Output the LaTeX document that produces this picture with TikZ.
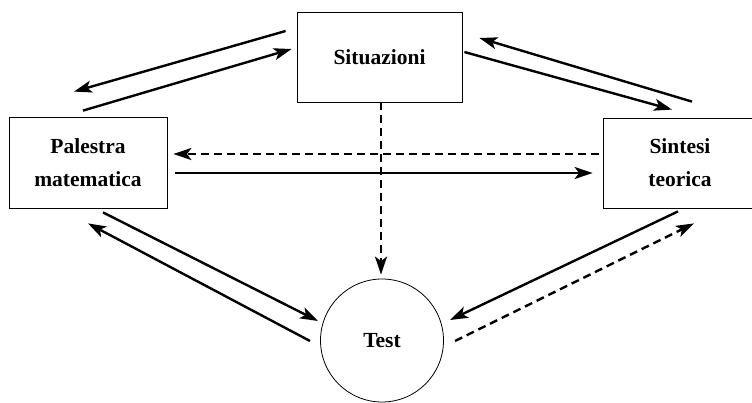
\documentclass[tikz,border=0pt]{standalone}
\usepackage{fontspec}
\setmainfont{Liberation Serif}
\newfontfamily\stagefont{Liberation Serif}[BoldFont={* Bold}]
\usetikzlibrary{arrows.meta}
\tikzset{
  stage/.style={draw, line width=0.8pt, inner sep=0pt, align=center,
    font=\stagefont\fontsize{21.5}{33}\selectfont\bfseries},
  flow/.style={line width=2.4pt, -{Stealth[length=18pt,width=12pt,inset=4.5pt]}},
  weakflow/.style={flow, dash pattern=on 8pt off 5pt},
}
\begin{document}
\begin{tikzpicture}[x=1pt,y=-1pt]
  \clip (0,0) rectangle (752,402);
  \fill[white] (0,0) rectangle (752,402);

  % the four stages
  \node[stage, minimum width=165pt, minimum height=90pt] (sit) at (379.5,57) {Situazioni};
  \node[stage, minimum width=158pt, minimum height=91pt] (pal) at (88,162.5) {Palestra\\matematica};
  \node[stage, minimum width=154pt, minimum height=90pt] (sin) at (680,163) {Sintesi\\teorica};
  \node[stage, circle, minimum size=123pt] (test) at (382,340.5) {Test};

  % Situazioni <-> Palestra matematica
  \draw[flow] ([shift={(-11,-26)}]sit.west) -- ([shift={(-14,-25)}]pal.north);
  \draw[flow] ([shift={(-5,-6)}]pal.north) -- ([shift={(-5,-8)}]sit.west);

  % Situazioni <-> Sintesi teorica
  \draw[flow] ([shift={(2,-5)}]sit.east) -- ([shift={(-8,-8)}]sin.north);
  \draw[flow] ([shift={(12,-16)}]sin.north) -- ([shift={(17,-19)}]sit.east);

  % Palestra matematica <-> Sintesi teorica
  \draw[weakflow] ([shift={(-4,-9)}]sin.west) -- ([shift={(6,-8.5)}]pal.east);
  \draw[flow] ([shift={(8,10.5)}]pal.east) -- ([shift={(-10,10)}]sin.west);

  % Situazioni -> Test
  \draw[weakflow] ([xshift=1.5pt]sit.south) -- ([shift={(-1,-4)}]test.north);

  % Palestra matematica <-> Test
  \draw[flow] ([shift={(15,4)}]pal.south) -- ([shift={(-64,-19.5)}]test.center);
  \draw[flow] ([shift={(-72,0.5)}]test.center) -- ([shift={(0,15)}]pal.south);

  % Sintesi teorica <-> Test
  \draw[flow] ([shift={(-2,3)}]sin.south) -- ([shift={(68,-20.5)}]test.center);
  \draw[weakflow] ([shift={(73,0.5)}]test.center) -- ([shift={(14,15)}]sin.south);
\end{tikzpicture}
\end{document}
